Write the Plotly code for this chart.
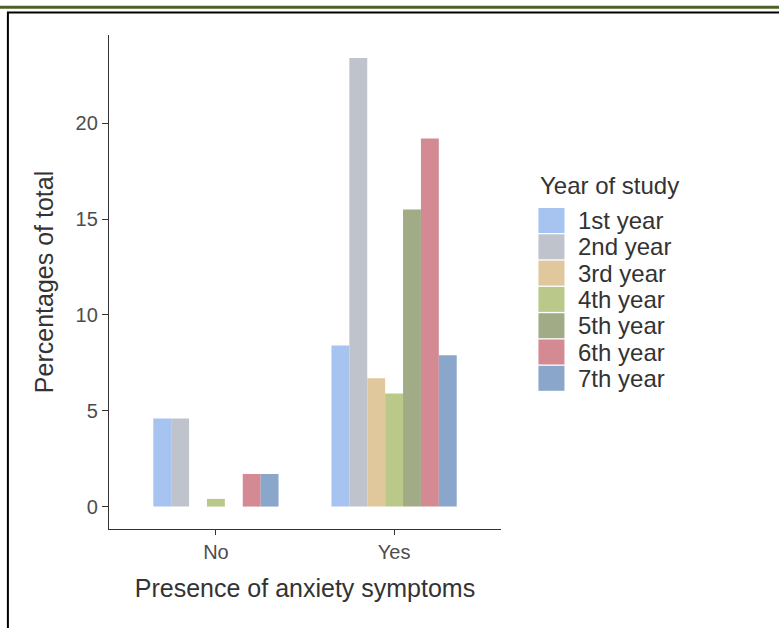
import plotly.graph_objects as go

# Percent of all respondents, by anxiety status and year of study
groups = ["No", "Yes"]
years = ["1st year", "2nd year", "3rd year", "4th year", "5th year", "6th year", "7th year"]
pct_no = [4.6, 4.6, 0.0, 0.4, 0.0, 1.7, 1.7]
pct_yes = [8.4, 23.4, 6.7, 5.9, 15.5, 19.2, 7.9]
colors = ["#A6C4EF", "#BEC3CC", "#E0C89C", "#BAC98A", "#A1AC86", "#D38A93", "#8AA6CB"]
y_ticks = [0, 5, 10, 15, 20]

W, H = 779, 628
L, R, T, B = 109, 500.6, 35, 529  # plot area in pixels

FONT = "Liberation Sans, Arial, Helvetica, sans-serif"
TEXT = "#333333"

fig = go.Figure()
for i, yr in enumerate(years):
    fig.add_trace(go.Bar(
        x=groups,
        y=[pct_no[i], pct_yes[i]],
        name=yr,
        marker=dict(color=colors[i], line=dict(width=0)),
        showlegend=False,
    ))


def px_x(px):
    return (px - L) / (R - L)


def px_y(py):
    return (B - py) / (B - T)


shapes = []
annotations = []

# legend: title, colour keys and labels
annotations.append(dict(
    x=px_x(538), y=px_y(185), xref="paper", yref="paper",
    text="Year of study", showarrow=False, xanchor="left", yanchor="middle",
    font=dict(family=FONT, size=24, color=TEXT),
))
row0, pitch = 208, 26.3
for i, yr in enumerate(years):
    top = row0 + i * pitch
    bot = top + pitch - 1.3
    shapes.append(dict(
        type="rect", xref="paper", yref="paper",
        x0=px_x(538), x1=px_x(564), y0=px_y(bot), y1=px_y(top),
        fillcolor=colors[i], line=dict(width=0),
    ))
    annotations.append(dict(
        x=px_x(575.5), y=px_y((top + bot) / 2), xref="paper", yref="paper",
        text=yr, showarrow=False, xanchor="left", yanchor="middle",
        font=dict(family=FONT, size=24, color=TEXT),
    ))

# page decoration: green rule and black frame
shapes.append(dict(
    type="line", xref="paper", yref="paper",
    x0=px_x(0), x1=px_x(W), y0=px_y(7.3), y1=px_y(7.3),
    line=dict(color="#4E6128", width=3),
))
shapes.append(dict(
    type="rect", xref="paper", yref="paper",
    x0=px_x(8), x1=px_x(W + 20), y0=px_y(H + 20), y1=px_y(12.5),
    line=dict(color="#000000", width=2), fillcolor="rgba(0,0,0,0)",
))

fig.update_layout(
    width=W, height=H, autosize=False,
    margin=dict(l=L, r=W - R, t=T, b=H - B, pad=0),
    paper_bgcolor="white", plot_bgcolor="white",
    barmode="group", bargap=0.297, bargroupgap=0,
    font=dict(family=FONT, color=TEXT),
    shapes=shapes, annotations=annotations,
    xaxis=dict(
        range=[-0.6, 1.6], showgrid=False, zeroline=False,
        showline=True, linecolor="#333", linewidth=1.3,
        ticks="outside", ticklen=5, tickwidth=1.3, tickcolor="#333",
        tickfont=dict(family=FONT, size=20, color="#4D4D4D"),
        title=dict(text="Presence of anxiety symptoms", standoff=17,
                   font=dict(family=FONT, size=25, color=TEXT)),
        automargin=False,
    ),
    yaxis=dict(
        range=[-1.17, 24.6], showgrid=False, zeroline=False,
        showline=True, linecolor="#333", linewidth=1.3,
        ticks="outside", ticklen=6, tickwidth=1.3, tickcolor="#333",
        tickvals=y_ticks,
        tickfont=dict(family=FONT, size=20, color="#4D4D4D"),
        title=dict(text="Percentages of total", standoff=14,
                   font=dict(family=FONT, size=25, color=TEXT)),
        automargin=False,
    ),
)

fig.write_html("out.html")
